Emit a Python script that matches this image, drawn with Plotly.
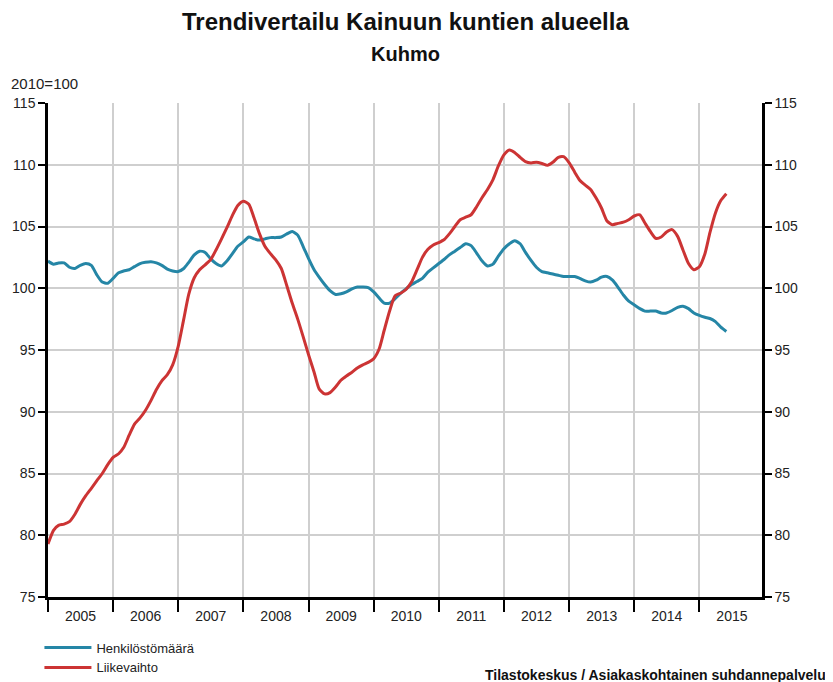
import plotly.graph_objects as go
import pandas as pd

# Monthly trend index (2010=100), Jan 2005 onwards
months = pd.date_range("2005-01-01", periods=126, freq="MS")

henkilosto = [
    102.2, 101.95, 102.05, 102.05, 101.7, 101.6, 101.85, 102.0, 101.85, 101.1, 100.5, 100.4,
    100.8, 101.25, 101.4, 101.5, 101.75, 102.0, 102.1, 102.15, 102.05, 101.85, 101.55, 101.4,
    101.35, 101.6, 102.1, 102.7, 103.0, 102.9, 102.4, 102.0, 101.8, 102.2, 102.8, 103.4,
    103.75, 104.15, 104.0, 103.9, 104.0, 104.1, 104.1, 104.15, 104.4, 104.6, 104.3, 103.4,
    102.4, 101.5, 100.9, 100.3, 99.8, 99.5, 99.55, 99.7, 99.95, 100.1, 100.1, 100.05,
    99.7, 99.2, 98.8, 98.8, 99.15, 99.6, 99.95, 100.3, 100.55, 100.8, 101.3, 101.65,
    102.0, 102.35, 102.7, 103.0, 103.3, 103.6, 103.45, 102.85, 102.2, 101.8, 101.95, 102.6,
    103.2, 103.6, 103.85, 103.6, 102.9, 102.25, 101.7, 101.35, 101.25, 101.15, 101.05, 100.95,
    100.95, 100.95, 100.8, 100.6, 100.5, 100.65, 100.9, 100.95, 100.65, 100.1, 99.45, 98.95,
    98.65, 98.35, 98.15, 98.15, 98.15, 98.0, 98.0, 98.2, 98.45, 98.55, 98.35, 98.0,
    97.8, 97.65, 97.55, 97.3, 96.85, 96.5,
]

liikevaihto = [
    79.3, 80.4, 80.8, 80.9, 81.1, 81.7, 82.5, 83.2, 83.8, 84.4, 85.0, 85.7,
    86.3, 86.6, 87.1, 88.1, 89.0, 89.5, 90.1, 90.9, 91.8, 92.5, 93.0, 93.8,
    95.3, 97.5, 99.5, 100.85, 101.5, 101.9, 102.3, 103.1, 104.0, 104.9, 105.9, 106.7,
    107.05, 106.8, 105.7, 104.4, 103.4, 102.8, 102.3, 101.6, 100.2, 98.8, 97.5, 96.1,
    94.6, 93.2, 91.85, 91.45, 91.55, 92.0, 92.55, 92.9, 93.2, 93.55, 93.8, 94.0,
    94.3, 95.1, 96.6, 98.2, 99.4, 99.6, 99.9, 100.5, 101.5, 102.5, 103.15, 103.5,
    103.7, 103.95, 104.4, 105.0, 105.55, 105.75, 105.95, 106.6, 107.35, 108.0, 108.8, 109.9,
    110.8, 111.2, 111.0, 110.6, 110.25, 110.15, 110.2, 110.1, 109.95, 110.2, 110.6, 110.65,
    110.15, 109.4, 108.75, 108.35, 108.0, 107.3, 106.5, 105.45, 105.15, 105.25, 105.35, 105.55,
    105.85, 105.95, 105.3, 104.6, 104.05, 104.15, 104.55, 104.75, 104.2, 103.1, 102.0, 101.5,
    101.75, 102.8, 104.5, 106.1, 107.1, 107.65,
]

series_names = ["Henkilöstömäärä", "Liikevaihto"]
series_colors = ["#2586a6", "#cc3434"]

y_ticks = [75, 80, 85, 90, 95, 100, 105, 110, 115]

FONT = "Liberation Sans, Arial, sans-serif"

fig = go.Figure()
for name, vals, col in zip(series_names, [henkilosto, liikevaihto], series_colors):
    fig.add_trace(go.Scatter(
        x=months, y=vals, mode="lines", name=name,
        line=dict(color=col, width=3, shape="spline", smoothing=0.6),
    ))
# invisible trace to carry the right-hand axis
fig.add_trace(go.Scatter(x=[months[0]], y=[100], yaxis="y2", mode="lines",
                         showlegend=False, hoverinfo="skip", line=dict(width=0)))

fig.update_layout(
    width=825, height=674,
    margin=dict(l=40, r=71, t=95, b=85, autoexpand=False),
    paper_bgcolor="white", plot_bgcolor="white",
    font=dict(family=FONT, size=14, color="#222"),
    showlegend=True,
    legend=dict(x=-0.012, y=-0.072, xanchor="left", yanchor="top",
                font=dict(size=13, color="#222"), tracegroupgap=0, itemwidth=47,
                bgcolor="rgba(0,0,0,0)"),
    xaxis=dict(
        type="date", range=["2005-01-01", "2015-12-18"],
        tick0="2005-01-01", dtick="M12", tickformat="%Y", ticklabelmode="period",
        showgrid=True, gridcolor="#cfcfcf", gridwidth=1.5,
        ticks="outside", ticklen=12, tickwidth=2, tickcolor="black",
        ticklabelstandoff=-8,
        showline=True, linecolor="black", linewidth=2.5,
        tickfont=dict(size=14, color="#222"),
    ),
    yaxis=dict(
        range=[75, 115], tickvals=y_ticks,
        showgrid=True, gridcolor="#cfcfcf", gridwidth=1.5, zeroline=False,
        ticks="outside", ticklen=7, tickwidth=2, tickcolor="black",
        showline=True, linecolor="black", linewidth=2.5,
        tickfont=dict(size=14, color="#222"),
    ),
    yaxis2=dict(
        range=[75, 115], tickvals=y_ticks, overlaying="y", side="right",
        showgrid=False, zeroline=False,
        ticks="outside", ticklen=7, tickwidth=2, tickcolor="black",
        showline=True, linecolor="black", linewidth=2.5,
        tickfont=dict(size=14, color="#222"),
    ),
    annotations=[
        dict(text="<b>Trendivertailu Kainuun kuntien alueella</b>", xref="paper", yref="paper",
             x=0.5, y=1.164, xanchor="center", yanchor="middle", showarrow=False,
             font=dict(size=24, color="#111")),
        dict(text="<b>Kuhmo</b>", xref="paper", yref="paper",
             x=0.5, y=1.099, xanchor="center", yanchor="middle", showarrow=False,
             font=dict(size=20, color="#111")),
        dict(text="2010=100", xref="paper", yref="paper",
             x=-0.055, y=1.04, xanchor="left", yanchor="middle", showarrow=False,
             font=dict(size=15, color="#222")),
        dict(text="<b>Tilastokeskus / Asiakaskohtainen suhdannepalvelu</b>", xref="paper", yref="paper",
             x=1.092, y=-0.158, xanchor="right", yanchor="middle", showarrow=False,
             font=dict(size=14, color="#111")),
    ],
)

fig.write_html("out.html")
